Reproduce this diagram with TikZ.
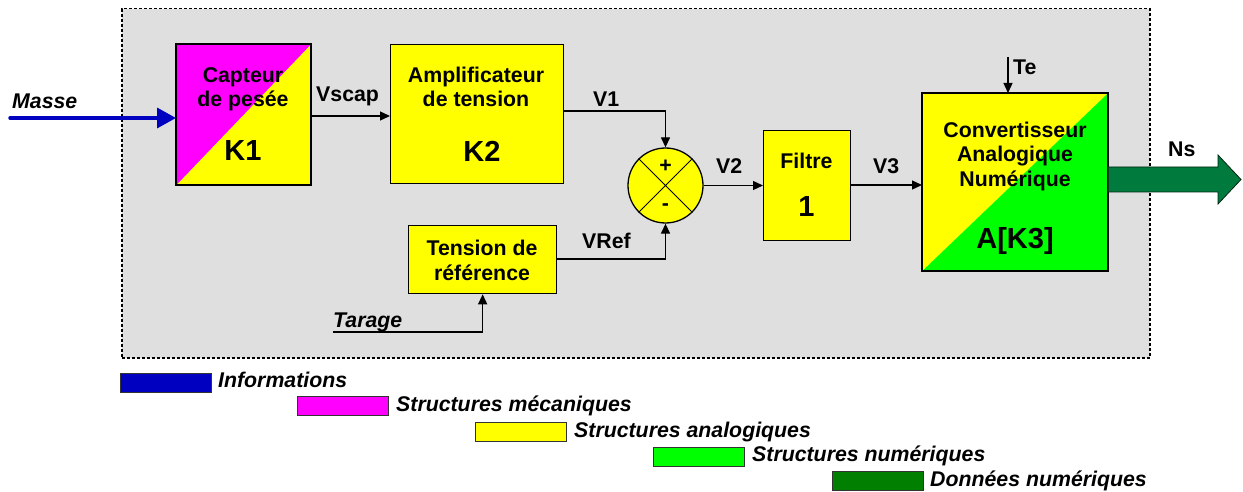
\documentclass[tikz,border=0pt]{standalone}
\usepackage{fontspec}
\setmainfont{Liberation Sans}
\usetikzlibrary{arrows.meta}
\definecolor{bgray}{HTML}{DFDFDF}
\definecolor{iblue}{HTML}{0000C0}
\definecolor{magb}{HTML}{FF00FF}
\definecolor{yelb}{HTML}{FFFF00}
\definecolor{greb}{HTML}{00FF00}
\definecolor{dgreen}{HTML}{007F00}
\definecolor{nsgreen}{HTML}{007A3D}
\tikzset{
  lab/.style={font=\fontsize{21.3}{24}\selectfont\bfseries, inner sep=0pt},
  big/.style={font=\fontsize{29}{32}\selectfont\bfseries, inner sep=0pt},
  ital/.style={font=\fontsize{21.3}{24}\selectfont\bfseries\itshape, inner sep=0pt},
  blk/.style={draw=black, line width=1.3pt, inner sep=0pt},
  sig/.style={draw=black, line width=1.3pt, -{Triangle[length=10pt,width=9pt]}},
  leg/.style={draw=black!80, line width=1pt, inner sep=0pt, minimum width=91pt, minimum height=19pt, anchor=north west},
}
\begin{document}
\begin{tikzpicture}[x=1pt,y=-1pt]
\useasboundingbox (0,0) rectangle (1243,492);
% frame
\node[draw=black, fill=bgray, dash pattern=on 3pt off 2pt, line width=1.5pt, inner sep=0pt,
  minimum width=1028pt, minimum height=349pt, anchor=north west] (frame) at (121,8) {};
% Capteur
\node[blk, fill=yelb, minimum width=134pt, minimum height=140pt, anchor=north west,
  path picture={\fill[magb] (path picture bounding box.north west) -- (path picture bounding box.north east) -- (path picture bounding box.south west) -- cycle;}] (cap) at (176,44) {};
\draw[line width=1.3pt] (cap.north west) rectangle (cap.south east);
\node[lab, anchor=base] (capt1) at (243,83) {Capteur};
\node[lab, anchor=base] (capt2) at (243,107) {de pesée};
\node[big, anchor=base] (k1) at (243,161) {K1};
% Amplificateur
\node[blk, fill=yelb, minimum width=173pt, minimum height=139pt, anchor=north west] (amp) at (390,44) {};
\node[lab, anchor=base] (ampt1) at (476,83) {Amplificateur};
\node[lab, anchor=base] (ampt2) at (476,107) {de tension};
\node[big, anchor=base] (k2) at (482,162) {K2};
% Sum
\node[draw=black, line width=1.3pt, fill=yelb, circle, minimum size=75pt, inner sep=0pt] (sum) at (665.5,185.5) {};
\draw[line width=1pt] (sum.north west) -- (sum.south east) (sum.north east) -- (sum.south west);
\node[lab, anchor=center] (plus) at (665.5,166) {+};
\node[lab, anchor=center] (minus) at (665.5,207) {-};
% Filtre
\node[blk, fill=yelb, minimum width=87pt, minimum height=110pt, anchor=north west] (fil) at (763,130) {};
\node[lab, anchor=base] (filt) at (806.5,169) {Filtre};
\node[big, anchor=base] (one) at (806.5,216) {1};
% CAN
\node[blk, fill=yelb, minimum width=185pt, minimum height=177pt, anchor=north west,
  path picture={\fill[greb] (path picture bounding box.south west) -- (path picture bounding box.north east) -- (path picture bounding box.south east) -- cycle;}] (can) at (922,93) {};
\draw[line width=1.3pt] (can.north west) rectangle (can.south east);
\node[lab, anchor=base] (cant1) at (1015,138) {Convertisseur};
\node[lab, anchor=base] (cant2) at (1015,162) {Analogique};
\node[lab, anchor=base] (cant3) at (1015,186) {Numérique};
\node[big, anchor=base] (k3) at (1015,248) {A[K3]};
% Tension de reference
\node[blk, fill=yelb, minimum width=148pt, minimum height=68pt, anchor=north west] (ref) at (408,225) {};
\node[lab, anchor=base] (reft1) at (482,255) {Tension de};
\node[lab, anchor=base] (reft2) at (482,280) {référence};
% Masse
\coordinate (mstart) at (10,118);
\draw[iblue, line width=3.5pt, line cap=round, -{Triangle[length=19pt,width=20pt]}] (mstart) -- (mstart -| cap.west);
\node[ital, anchor=base west] (masse) at (12,109) {Masse};
% Vscap
\draw[sig] (cap.east |- 0,116) -- (amp.west |- 0,116);
\node[lab, anchor=base west] (vscap) at (316,102) {Vscap};
% V1
\draw[sig] (amp.east |- 0,111) -| (sum.north);
\node[lab, anchor=base west] (v1) at (593,107) {V1};
% VRef
\draw[sig] (ref.east |- 0,259) -| (sum.south);
\node[lab, anchor=base west] (vref) at (582,248) {VRef};
% V2
\draw[sig] (sum.east) -- (sum.east -| fil.west);
\node[lab, anchor=base west] (v2) at (716,174) {V2};
% V3
\draw[sig] (fil.east |- 0,185) -- (can.west |- 0,185);
\node[lab, anchor=base west] (v3) at (873,174) {V3};
% Te
\coordinate (te0) at (1008,57);
\draw[sig] (te0) -- (te0 |- can.north);
\node[lab, anchor=base west] (te) at (1013,75) {Te};
% Tarage
\coordinate (tar0) at (333,332);
\draw[sig] (tar0) -| (ref.south);
\node[ital, anchor=base west] (tarage) at (333,327) {Tarage};
% Ns
\draw[draw=black!70!nsgreen, line width=0.8pt, fill=nsgreen]
  (can.east |- 0,167) -- (1218,167) -- (1218,155) -- (1241,179.5) -- (1218,204) -- (1218,192) -- (can.east |- 0,192) -- cycle;
\node[lab, anchor=base west] (ns) at (1168,157) {Ns};
% Legend
\node[leg, fill=iblue] (l1) at (120,373) {};
\node[ital, anchor=base west] (l1t) at (218,387) {Informations};
\node[leg, fill=magb] (l2) at (297,396) {};
\node[ital, anchor=base west] (l2t) at (396,411) {Structures mécaniques};
\node[leg, fill=yelb] (l3) at (475,422) {};
\node[ital, anchor=base west] (l3t) at (574,437) {Structures analogiques};
\node[leg, fill=greb] (l4) at (653,447) {};
\node[ital, anchor=base west] (l4t) at (752,461) {Structures numériques};
\node[leg, fill=dgreen] (l5) at (832,471) {};
\node[ital, anchor=base west] (l5t) at (930,486) {Données numériques};
\end{tikzpicture}
\end{document}
